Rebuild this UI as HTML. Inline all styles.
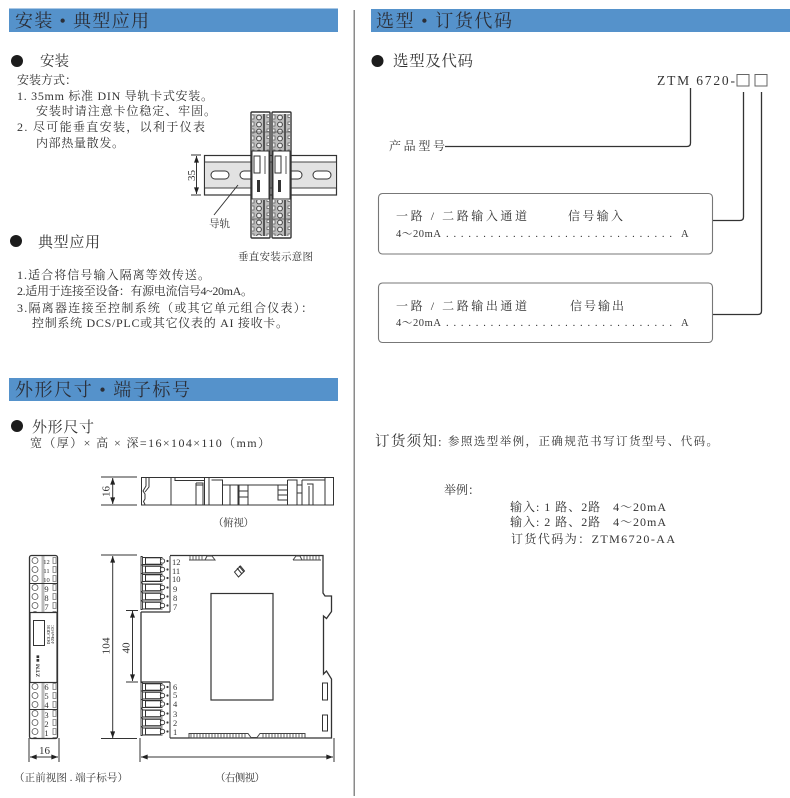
<!DOCTYPE html>
<html><head><meta charset="utf-8"><style>
html,body{margin:0;padding:0;background:#fff}
svg{display:block}
text{font-family:"Liberation Serif","Noto Serif CJK SC",serif;fill:#333;white-space:pre}
.h{font-size:18px;fill:#2b2f38}
.m{font-size:12px}
.s{font-size:10.5px}
.n{font-size:8.5px;fill:#444}
.l{fill:none;stroke:#333;stroke-width:1}
.t{fill:none;stroke:#333;stroke-width:1.3}
</style></head><body>
<svg xmlns="http://www.w3.org/2000/svg" width="790" height="798" viewBox="0 0 790 798">
<defs>
<marker id="a" viewBox="0 0 8 6" refX="8" refY="3" markerWidth="7" markerHeight="5" orient="auto-start-reverse" markerUnits="userSpaceOnUse"><path d="M0 0L8 3L0 6z" fill="#222"/></marker>
<pattern id="tp" width="19" height="7" patternUnits="userSpaceOnUse" x="251" y="114">
<rect width="19" height="7" fill="#bdbdbd"/>
<circle cx="4" cy="3.500" r="2.400" fill="#eee" stroke="#444" stroke-width="1"/>
<rect x="8" y="0" width="2" height="7" fill="#555"/>
<rect x="12" y="1" width="2.500" height="2.500" fill="#fff" stroke="#555" stroke-width=".7"/>
<rect x="15.500" y="1" width="2.500" height="4" fill="#eee" stroke="#555" stroke-width=".7"/>
</pattern>
<pattern id="fp" width="29" height="9" patternUnits="userSpaceOnUse" x="29" y="556">
<circle cx="6" cy="4.500" r="3" fill="#fff" stroke="#555" stroke-width=".8"/>
<rect x="12.500" y="0" width="3" height="9" fill="#bbb"/>
<path d="M24 1.500h3v6h-3z" fill="#fff" stroke="#777" stroke-width=".8"/>
</pattern>
<g id="term">
<path d="M1.500 0h-1.500v8.500h1.500M1.500 0v8.500M1.500 1h20M1.500 8h20" fill="none" stroke="#333" stroke-width=".9"/>
<rect x="4.500" y="1.300" width="15" height="6.400" fill="none" stroke="#333" stroke-width="1"/>
<circle cx="21.500" cy="4.500" r="2.200" fill="#fff" stroke="#333" stroke-width=".9"/>
<circle cx="26.500" cy="4.500" r="1.100" fill="#333"/>
</g>
<g id="mod">
<rect x="0" y="0" width="19" height="126" rx="1" fill="#fff" stroke="#333" stroke-width="1.400"/>
<rect x="1" y="2" width="17" height="37" fill="url(#tp)"/>
<rect x="1" y="88" width="17" height="36" fill="url(#tp)"/>
<path d="M0 20h19M0 107h19" stroke="#555" stroke-width=".8"/>
<rect x="1" y="39" width="17" height="48" fill="#fff" stroke="#333" stroke-width="1"/>
<rect x="3" y="44" width="6" height="17" fill="#fff" stroke="#333" stroke-width="1"/>
<rect x="6" y="68" width="3" height="12" fill="#333"/>
<rect x="13" y="44" width="2" height="18" fill="#aaa"/>
</g>
</defs>
<rect width="790" height="798" fill="#fff"/>

<!-- headers -->
<rect x="9" y="8.500" width="329" height="23.500" fill="#5592cb"/>
<rect x="371" y="9" width="419" height="23" fill="#5592cb"/>
<rect x="9" y="378" width="329" height="23" fill="#5592cb"/>
<rect x="353.500" y="10" width="1.500" height="786" fill="#8a8a8a"/>
<text class="h" x="15" y="27" textLength="134">安装 • 典型应用</text>
<text class="h" x="376" y="27" textLength="136">选型 • 订货代码</text>
<text class="h" x="15" y="396" textLength="175">外形尺寸 • 端子标号</text>

<!-- install -->
<circle cx="17" cy="61" r="6" fill="#1c1c1c"/>
<text x="40" y="66" font-size="14.500" textLength="29">安装</text>
<text class="m" x="17" y="84" textLength="60">安装方式：</text>
<text class="m" x="17" y="100" textLength="196">1. 35mm 标准 DIN 导轨卡式安装。</text>
<text class="m" x="36" y="115" textLength="180">安装时请注意卡位稳定、牢固。</text>
<text class="m" x="17" y="131" textLength="188">2. 尽可能垂直安装，以利于仪表</text>
<text class="m" x="36" y="147" textLength="88">内部热量散发。</text>
<circle cx="16" cy="241" r="6" fill="#1c1c1c"/>
<text x="38" y="247" font-size="15" textLength="62">典型应用</text>
<text class="m" x="17" y="279" textLength="193">1.适合将信号输入隔离等效传送。</text>
<text class="m" x="17" y="295" textLength="236">2.适用于连接至设备：有源电流信号4~20mA。</text>
<text class="m" x="17" y="312" textLength="296">3.隔离器连接至控制系统（或其它单元组合仪表）：</text>
<text class="m" x="32" y="327" textLength="256">控制系统 DCS/PLC或其它仪表的 AI 接收卡。</text>

<!-- rail -->
<rect x="204.500" y="155.500" width="132" height="39.500" fill="#fff" stroke="#333" stroke-width="1.200"/>
<rect x="205" y="162" width="131" height="26" fill="#e2e2e2"/>
<path d="M205 162h131M205 188h131" stroke="#444" stroke-width="1"/>
<rect x="211" y="171" width="18" height="8" rx="4" fill="#fff" stroke="#333" stroke-width="1"/>
<rect x="240" y="171" width="18" height="8" rx="4" fill="#fff" stroke="#333" stroke-width="1"/>
<rect x="284" y="171" width="18" height="8" rx="4" fill="#fff" stroke="#333" stroke-width="1"/>
<rect x="313" y="171" width="18" height="8" rx="4" fill="#fff" stroke="#333" stroke-width="1"/>
<use href="#mod" x="251" y="112"/>
<use href="#mod" x="272" y="112"/>
<path d="M191 155h10M191 195h10" class="l"/>
<path d="M196.500 156V194" class="l" marker-start="url(#a)" marker-end="url(#a)"/>
<text font-size="11" transform="translate(195,181) rotate(-90)">35</text>
<path d="M238 185L214 215" class="l"/>
<text class="s" x="209" y="227" textLength="21">导轨</text>
<text class="s" x="238" y="260" textLength="75">垂直安装示意图</text>

<!-- dimensions -->
<circle cx="17" cy="426" r="6" fill="#1c1c1c"/>
<text x="32" y="432" font-size="15" textLength="62">外形尺寸</text>
<text class="m" x="30" y="447" textLength="240">宽（厚）× 高 × 深=16×104×110（mm）</text>

<!-- top view -->
<path d="M101 477h36M101 505h36" class="l"/>
<path d="M112.700 478V504" class="l" marker-start="url(#a)" marker-end="url(#a)"/>
<text font-size="11" transform="translate(109.500,497) rotate(-90)">16</text>
<g class="l">
<rect x="141.500" y="477.500" width="192" height="27.500"/>
<path d="M146 478v8l-3 5 2 3v5l-1.500 2.500 1.500 3M149 478v9l-4 5"/>
<path d="M171 478v27M175 478v2.500h29M204.500 478v27M209 478v27"/>
<path d="M211.500 480h11v25M222.500 485h65M230 485v20M238 485v20M248 485v20M239 485v20h9M239 491h9M239 497h9"/>
<path d="M278 485v15h9M278 490h9M278 495h9M287.500 480v25M287.500 480h9.500v25M297 485h5M297 493h5M302 480v25M302 480h23v-3M307 484h6v21M309 486v19"/>
<path d="M325 478v27M196 483h7v22M196 483v22M196 485h7"/>
</g>
<text class="s" x="213" y="526" textLength="41">（俯视）</text>

<!-- front view -->
<rect x="29.500" y="555.500" width="28" height="183" rx="2" fill="url(#fp)" stroke="#333" stroke-width="1.300"/>
<path d="M30 583.500h27M30 709.500h27" class="l"/>
<rect x="30" y="612.500" width="27" height="70" fill="#fff" stroke="#333" stroke-width="1.200"/>
<rect x="33.500" y="620.500" width="11" height="25" fill="#fff" class="l"/>
<text font-size="5.500" font-weight="bold" fill="#111" transform="translate(39.500,677) rotate(-90)" textLength="22">ZTM ■■</text>
<text font-size="4.500" transform="translate(50,644) rotate(-90)" textLength="19">ISOLATOR</text>
<text font-size="4.500" transform="translate(54,644) rotate(-90)" textLength="19">4-20mA-DC</text>
<g class="n" text-anchor="middle">
<text x="46.500" y="564" font-size="6.500">12</text><text x="46.500" y="573" font-size="6.500">11</text><text x="46.500" y="582" font-size="6.500">10</text>
<text x="46.500" y="592">9</text><text x="46.500" y="601">8</text><text x="46.500" y="610">7</text>
<text x="46.500" y="690">6</text><text x="46.500" y="699">5</text><text x="46.500" y="708">4</text>
<text x="46.500" y="718">3</text><text x="46.500" y="727">2</text><text x="46.500" y="736">1</text>
</g>
<path d="M29 738v24M59 738v24" class="l"/>
<path d="M30 757H58" class="l" marker-start="url(#a)" marker-end="url(#a)"/>
<text font-size="11" x="39" y="754">16</text>
<text class="s" x="14" y="781" textLength="114">（正前视图 . 端子标号）</text>

<!-- side view -->
<path d="M101 555h36M101 738.500h36M126 610.500h12M126 682h12M140 738v24M334 738v24" class="l"/>
<path d="M112.700 556V738" class="l" marker-start="url(#a)" marker-end="url(#a)"/>
<path d="M132.500 611V681" class="l" marker-start="url(#a)" marker-end="url(#a)"/>
<path d="M141 757H333" class="l" marker-start="url(#a)" marker-end="url(#a)"/>
<text font-size="11" transform="translate(109.500,654.500) rotate(-90)" textLength="17">104</text>
<text font-size="11" transform="translate(129.500,653.500) rotate(-90)" textLength="11">40</text>
<path d="M170 555.500H323V593l2 3h6.500v15.500l-5 7-3-2.500V674l3-3 5 8V738H170M141 612H170M141 612V682H170" class="t"/>
<path d="M170 556v56M170 682v56" class="l"/>
<g>
<use href="#term" x="141" y="556.500"/><use href="#term" x="141" y="565"/><use href="#term" x="141" y="573.500"/>
<use href="#term" x="141" y="583"/><use href="#term" x="141" y="592"/><use href="#term" x="141" y="601"/>
<use href="#term" x="141" y="682.500"/><use href="#term" x="141" y="691"/><use href="#term" x="141" y="699.500"/>
<use href="#term" x="141" y="709"/><use href="#term" x="141" y="718"/><use href="#term" x="141" y="727"/>
</g>
<g class="n">
<text x="172" y="565">12</text><text x="172" y="574">11</text><text x="172" y="582">10</text>
<text x="173" y="592">9</text><text x="173" y="601">8</text><text x="173" y="610">7</text>
<text x="173" y="690">6</text><text x="173" y="698">5</text><text x="173" y="707">4</text>
<text x="173" y="717">3</text><text x="173" y="726">2</text><text x="173" y="735">1</text>
</g>
<rect x="211" y="593.500" width="62" height="106.500" fill="#fff" stroke="#333" stroke-width="1.200"/>
<path d="M240.500 566l4 5-6 6-4-5z" fill="#fff" stroke="#333"/>
<path d="M237 568l5 6M239 566l5 6" class="l"/>
<rect x="322.500" y="683" width="5" height="17" fill="#fff" class="l"/>
<rect x="322.500" y="715" width="5" height="16" fill="#fff" class="l"/>
<path d="M189 733.500H248l3 4h6l3-4H305V738H189zM189 560H205l2-4h5l3 4H205M293 560l3-4h4l2 4h-9M302 560H321" fill="none" stroke="#444" stroke-width="1"/>
<path d="M191 734v4M194 734v4M197 734v4M200 734v4M203 734v4M206 734v4M209 734v4M212 734v4M215 734v4M218 734v4M221 734v4M224 734v4M227 734v4M230 734v4M233 734v4M236 734v4M239 734v4M242 734v4M245 734v4M263 734v4M266 734v4M269 734v4M272 734v4M275 734v4M278 734v4M281 734v4M284 734v4M287 734v4M290 734v4M293 734v4M296 734v4M299 734v4M302 734v4M190 556v4M193 556v4M196 556v4M199 556v4M202 556v4M304 556v4M307 556v4M310 556v4M313 556v4M316 556v4M319 556v4" stroke="#555" stroke-width=".9" fill="none"/>
<text class="s" x="215" y="781" textLength="50">（右侧视）</text>

<!-- right -->
<circle cx="377.500" cy="61" r="6" fill="#1c1c1c"/>
<text x="393" y="66" font-size="15.500" textLength="80">选型及代码</text>
<text x="657" y="85" font-size="13.500" textLength="78">ZTM 6720-</text>
<rect x="737" y="74.500" width="12" height="11.500" fill="none" stroke="#666"/>
<rect x="755" y="74.500" width="12" height="11.500" fill="none" stroke="#666"/>
<text class="m" x="389" y="150" textLength="56">产品型号</text>
<path d="M690.500 88V143q0 3.500-3.500 3.500H445" class="t"/>
<path d="M743.500 92V217q0 3.500-3.500 3.500H712" class="t"/>
<path d="M761.500 92V311q0 3.500-3.500 3.500H712" class="t"/>
<rect x="378.500" y="193.500" width="334" height="60.500" rx="4" fill="#fff" stroke="#777" stroke-width="1.100"/>
<rect x="378.500" y="283" width="334" height="59.500" rx="4" fill="#fff" stroke="#777" stroke-width="1.100"/>
<text class="m" x="396" y="220" textLength="131">一路 / 二路输入通道</text>
<text class="m" x="568" y="220" textLength="55">信号输入</text>
<text class="s" x="396" y="237" textLength="45">4～20mA</text>
<text class="s" x="446" y="237" textLength="226">...............................</text>
<text class="s" x="681" y="237">A</text>
<text class="m" x="396" y="310" textLength="131">一路 / 二路输出通道</text>
<text class="m" x="570" y="310" textLength="54">信号输出</text>
<text class="s" x="396" y="326" textLength="45">4～20mA</text>
<text class="s" x="446" y="326" textLength="226">...............................</text>
<text class="s" x="681" y="326">A</text>

<text x="375" y="446" font-size="14.500" textLength="62">订货须知</text>
<text x="438" y="446" font-size="13">:</text>
<text x="448" y="445" font-size="11.500" textLength="270">参照选型举例，正确规范书写订货型号、代码。</text>
<text class="m" x="444" y="494" textLength="36">举例：</text>
<text class="m" x="510" y="511" textLength="156">输入: 1 路、2路   4～20mA</text>
<text class="m" x="510" y="526" textLength="156">输入: 2 路、2路   4～20mA</text>
<text class="m" x="511" y="543" textLength="164">订货代码为：ZTM6720-AA</text>
</svg>
</body></html>
